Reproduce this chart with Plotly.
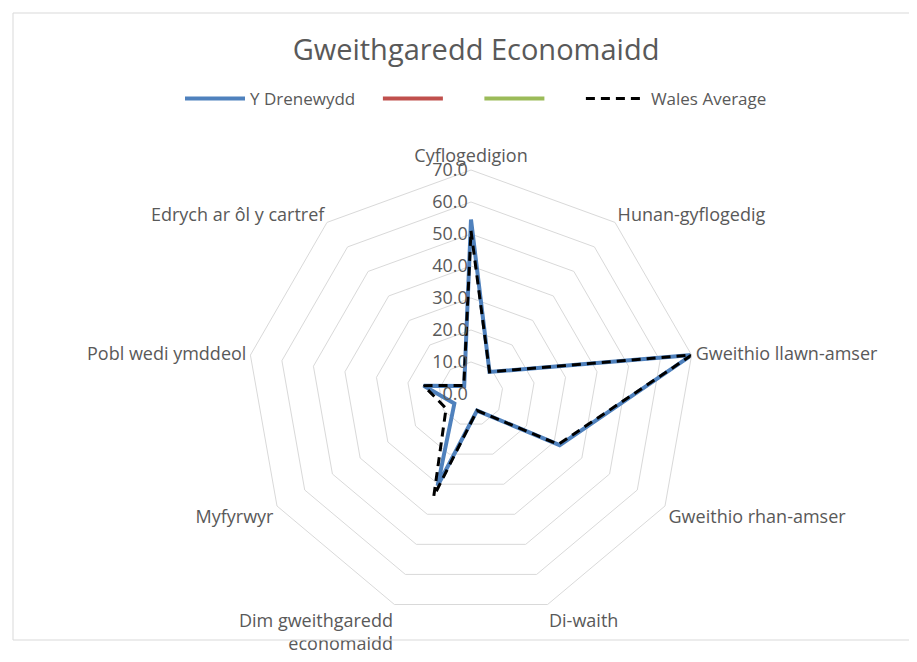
import plotly.graph_objects as go

categories = ["Cyflogedigion", "Hunan-gyflogedig", "Gweithio llawn-amser",
              "Gweithio rhan-amser", "Di-waith", "Dim gweithgaredd<br>economaidd",
              "Myfyrwyr", "Pobl wedi ymddeol", "Edrych ar ôl y cartref"]
y_drenewydd = [54.5, 9.0, 70.0, 32.0, 5.5, 30.5, 6.0, 15.0, 3.3]
wales_average = [51.0, 9.0, 70.0, 31.5, 5.5, 34.0, 9.0, 15.0, 3.5]
radial_ticks = [0, 10, 20, 30, 40, 50, 60, 70]

def closed(v):
    return list(v) + [v[0]]

theta = closed(categories)
FONT = "Open Sans"
GREY = "#595959"
NB = "\u00a0"

fig = go.Figure()
fig.add_trace(go.Scatterpolar(r=closed(y_drenewydd), theta=theta, mode="lines",
                              name="Y Drenewydd" + NB * 4,
                              line=dict(color="#4F81BD", width=4)))
fig.add_trace(go.Scatterpolar(r=[None], theta=[categories[0]], mode="lines",
                              name=NB * 6, line=dict(color="#C0504D", width=4)))
fig.add_trace(go.Scatterpolar(r=[None], theta=[categories[0]], mode="lines",
                              name=NB * 6, line=dict(color="#9BBB59", width=4)))
fig.add_trace(go.Scatterpolar(r=closed(wales_average), theta=theta, mode="lines",
                              name="Wales Average",
                              line=dict(color="black", width=3, dash="9px,6px")))

R = 224
cx, cy = 463, 662 - 386
W, H = 917, 662
fig.update_layout(
    width=W, height=H,
    margin=dict(l=0, r=0, t=0, b=0),
    paper_bgcolor="white",
    font=dict(family=FONT, color=GREY, size=18),
    title=dict(text="Gweithgaredd Economaidd", x=468 / W, xanchor="center",
               y=1 - 42 / H, yanchor="middle",
               font=dict(family=FONT, size=29, color=GREY)),
    legend=dict(orientation="h", x=468 / W, xanchor="center",
                y=1 - 91 / H, yanchor="middle",
                font=dict(family=FONT, size=17, color=GREY),
                itemwidth=60, tracegroupgap=0),
    polar=dict(
        domain=dict(x=[(cx - R) / W, (cx + R) / W], y=[(cy - R) / H, (cy + R) / H]),
        gridshape="linear",
        bgcolor="white",
        angularaxis=dict(rotation=90, direction="clockwise", showgrid=False,
                         showline=True, linecolor="#D9D9D9", linewidth=1,
                         ticks="", tickfont=dict(family=FONT, size=18, color=GREY)),
        radialaxis=dict(range=[0, 70], tickvals=radial_ticks, tickformat=".1f",
                        angle=90, tickangle=90, side="counterclockwise",
                        showline=False, ticks="",
                        gridcolor="#D9D9D9", gridwidth=1,
                        tickfont=dict(family=FONT, size=18, color=GREY)),
    ),
    shapes=[dict(type="rect", xref="paper", yref="paper", x0=5 / W, x1=1 - 8 / W,
                 y0=30 / H, y1=1 - 5 / H, line=dict(color="#D9D9D9", width=1))],
)

fig.write_html("out.html")
